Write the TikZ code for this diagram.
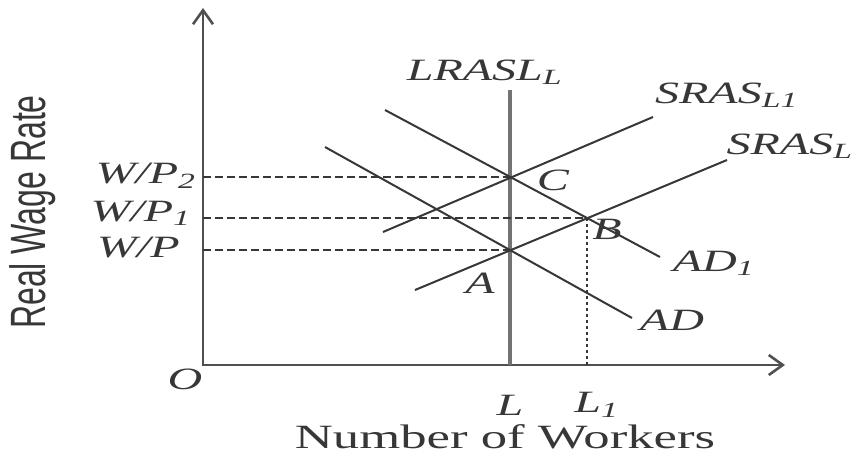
\documentclass[tikz,border=0pt]{standalone}
\usepackage{fontspec}
\setmainfont{Liberation Serif}
\setsansfont{Liberation Sans}
\usepackage{graphicx}
\usetikzlibrary{arrows.meta, intersections}
\definecolor{inkgray}{RGB}{55,55,55}
\definecolor{axisgray}{RGB}{80,80,80}
\definecolor{lrasgray}{RGB}{115,115,115}
\newcommand{\wide}[1]{\scalebox{1.55}[1]{#1}}

\begin{document}
\begin{tikzpicture}[x=0.5pt, y=-0.5pt, >={Straight Barb[length=7pt, width=10pt]},
  curve/.style={inkgray, line width=1pt},
  guide/.style={inkgray, dash pattern=on 4pt off 2pt, line width=1pt},
  lab/.style={inkgray, font=\fontsize{15.5}{17}\selectfont\itshape, inner sep=0pt}]
\useasboundingbox (0,0) rectangle (861,455);

% axes
\coordinate (O) at (203,365);
\coordinate (ytop) at (203,8);
\coordinate (xend) at (785,365);
\draw[axisgray, line width=1.3pt, <->] (ytop) -- (O) -- (xend);

% long run supply
\coordinate (lrastop) at (510,90);
\draw[lrasgray, line width=2pt] (lrastop) -- (lrastop |- O);

% supply and demand curves
\coordinate (srasoneL) at (383,232); \coordinate (srasoneR) at (653,117);
\coordinate (srasL) at (415,290);    \coordinate (srasR) at (727,160);
\coordinate (adoneL) at (385,110);   \coordinate (adoneR) at (660,257);
\coordinate (adL) at (325,147);      \coordinate (adR) at (632,318);
\draw[curve, name path=srasone] (srasoneL) -- (srasoneR);
\draw[curve, name path=sras] (srasL) -- (srasR);
\draw[curve, name path=adone] (adoneL) -- (adoneR);
\draw[curve, name path=ad] (adL) -- (adR);
\path[name intersections={of=srasone and adone, by=C}];
\path[name intersections={of=sras and adone, by=B}];
\path[name intersections={of=sras and ad, by=A}];

% guides
\draw[guide] (C -| O) -- (C);
\draw[guide] (B -| O) -- (B);
\draw[guide] (A -| O) -- (A);
\draw[inkgray, line width=1pt, dash pattern=on 1.5pt off 1.5pt] (B) -- (B |- O);

% labels
\node[lab] (lras) at (485,72) {\wide{LRASL\textsubscript{L}}};
\node[lab] (srasone) at (727,95) {\wide{SRAS\textsubscript{L1}}};
\node[lab] (srasl) at (790,146) {\wide{SRAS\textsubscript{L}}};
\node[lab] (labC) at (553,180) {\wide{C}};
\node[lab] (labB) at (607,229) {\wide{B}};
\node[lab] (labA) at (480,283) {\wide{A}};
\node[lab] (adone) at (714,263) {\wide{AD\textsubscript{1}}};
\node[lab] (adlab) at (672,320) {\wide{AD}};
\node[lab, anchor=east] (wptwo) at (197,176) {\wide{W/P\textsubscript{2}}};
\node[lab, anchor=east] (wpone) at (192,213) {\wide{W/P\textsubscript{1}}};
\node[lab, anchor=east] (wp) at (180,248) {\wide{W/P}};
\node[lab] (labO) at (185,379) {\wide{O}};
\node[lab] (labL) at (510,405) {\wide{L}};
\node[lab] (labLone) at (597,405) {\wide{L\textsubscript{1}}};
\node[inkgray, font=\fontsize{17}{19}\selectfont, inner sep=0pt] (xtitle) at (505,437) {\wide{Number of Workers}};
\node[inkgray, font=\sffamily\fontsize{16}{18}\selectfont, rotate=90, inner sep=0pt] (ytitle) at (33,212) {\scalebox{1}[1.55]{Real Wage Rate}};

\end{tikzpicture}
\end{document}
